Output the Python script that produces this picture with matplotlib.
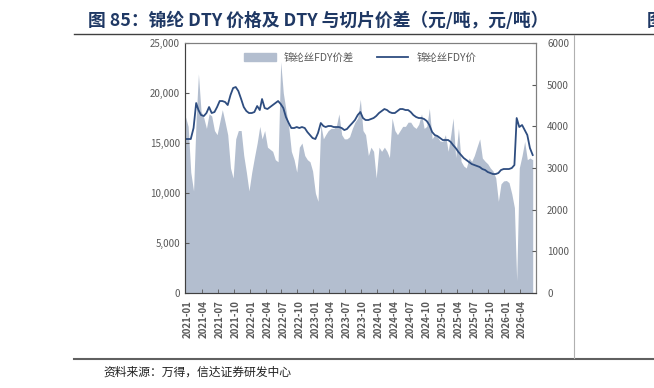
import numpy as np
import pandas as pd
import matplotlib
matplotlib.use("Agg")
import matplotlib.pyplot as plt
import matplotlib.dates as mdates
from matplotlib.lines import Line2D
from matplotlib.patches import Patch

plt.rcParams['font.family'] = ['Noto Sans CJK SC', 'DejaVu Sans']

# half-month samples, 2020-12-16 .. 2026-06-01
months = pd.date_range('2020-12-01', '2026-06-01', freq='MS')
dates = sorted(list(months) + [m + pd.Timedelta(days=15) for m in months])[1:-1]

# FDY spread (right axis, yuan/t)
spread = [4240, 4000, 2900, 2450, 4200, 5260, 4360, 4200, 3950, 4300,
          4250, 3900, 3800, 4100, 4400, 4100, 3800, 3000, 2760, 3700,
          3900, 3900, 3300, 2900, 2450, 2900, 3250, 3600, 4000, 3700,
          3900, 3500, 3450, 3400, 3200, 3150, 5550, 4800, 4400, 4000,
          3400, 3200, 2900, 3500, 3600, 3300, 3200, 3150, 2930, 2400,
          2200, 4050, 3700, 3800, 3900, 3950, 3950, 4000, 4300, 3800,
          3700, 3700, 3750, 3950, 4100, 4200, 4650, 3900, 3800, 3300,
          3500, 3400, 2760, 3500, 3400, 3500, 3400, 3250, 4200, 3900,
          3800, 3900, 4000, 4000, 4100, 4100, 4000, 3950, 4050, 4300,
          3950, 4000, 4430, 3700, 3800, 3750, 3650, 3640, 3800, 3400,
          3800, 4200, 3250, 3950, 3160, 3050, 3000, 3240, 3160, 3300,
          3500, 3700, 3240, 3160, 3100, 3000, 2930, 2760, 2200, 2620,
          2690, 2700, 2650, 2380, 2050, 300, 3000, 3300, 3640, 3200,
          3240, 3200]

# FDY price (left axis, yuan/t)
price = [15400, 15400, 15400, 16500, 19000, 18300, 17800, 17700, 18000, 18600,
         18000, 18100, 18600, 19200, 19200, 19100, 18800, 19800, 20500, 20600,
         20200, 19400, 18600, 18200, 18000, 18000, 18100, 18700, 18300, 19400,
         18500, 18400, 18600, 18800, 19000, 19200, 18900, 18500, 17600, 17000,
         16500, 16500, 16600, 16500, 16600, 16500, 16100, 15800, 15500, 15400,
         16000, 17000, 16700, 16600, 16700, 16700, 16600, 16600, 16600, 16500,
         16300, 16400, 16700, 17000, 17300, 17800, 18100, 17500, 17300, 17300,
         17400, 17500, 17700, 18000, 18200, 18400, 18300, 18100, 18000, 18000,
         18200, 18400, 18400, 18300, 18300, 18100, 17800, 17600, 17500, 17500,
         17400, 17200, 16800, 16100, 15800, 15700, 15500, 15300, 15300, 15300,
         15100, 14800, 14500, 14100, 13800, 13500, 13300, 13100, 12900, 12800,
         12700, 12600, 12400, 12300, 12100, 12000, 11900, 11900, 12000, 12300,
         12400, 12400, 12400, 12500, 12800, 17500, 16600, 16800, 16300, 15800,
         14500, 13800]

qlabels = pd.date_range('2021-01-01', '2026-04-01', freq='QS')

area_c = '#B3BECF'
line_c = '#2E4D80'
grey = '#595959'

fig = plt.figure(figsize=(6.54, 3.88), dpi=100)
ax = fig.add_axes([0.2829, 0.2448, 0.5367, 0.6443])
ax2 = ax.twinx()

ax2.fill_between(dates, spread, 0, color=area_c, lw=0)
ax.plot(dates, price, color=line_c, lw=1.3)
ax.set_zorder(ax2.get_zorder() + 1)
ax.patch.set_visible(False)

ax.set_ylim(0, 25000)
ax.set_yticks(range(0, 25001, 5000))
ax.set_yticklabels([f'{v:,}' for v in range(0, 25001, 5000)])
ax2.set_ylim(0, 6000)
ax2.set_yticks(range(0, 6001, 1000))

x0 = mdates.date2num(pd.Timestamp('2020-12-14'))
x1 = mdates.date2num(pd.Timestamp('2026-06-09'))
ax.set_xlim(x0, x1)

ax.set_xticks(mdates.date2num(qlabels))
ax.set_xticklabels([d.strftime('%Y-%m') for d in qlabels], rotation=90,
                   fontweight='bold', fontsize=7, color=grey)
ax.tick_params(axis='x', which='major', length=0, pad=5)
ax.set_xticks(mdates.date2num(qlabels + pd.Timedelta(days=80)), minor=True)
ax.tick_params(axis='x', which='minor', length=3, direction='in', color=grey)
ax.tick_params(axis='y', length=3, direction='in', labelsize=7, labelcolor=grey, color=grey)
ax2.tick_params(axis='y', length=3, direction='in', labelsize=7, labelcolor=grey, color=grey, pad=8)
ax2.tick_params(axis='x', length=0)

for a in (ax, ax2):
    for s in a.spines.values():
        s.set_color('#7F7F7F')
        s.set_linewidth(0.8)
ax.spines['left'].set_color('#404040')
ax.spines['bottom'].set_color('#404040')

handles = [Patch(color=area_c), Line2D([], [], color=line_c, lw=1.3)]
ax.legend(handles, ['锦纶丝FDY价差', '锦纶丝FDY价'], loc='upper center',
          bbox_to_anchor=(0.5, 1.0), ncol=2, frameon=False, fontsize=7.5,
          labelcolor=grey, handlelength=3, columnspacing=2.2)

# page decorations
fig.text(88 / 654, 1 - 21 / 388, '图 85：锦纶 DTY 价格及 DTY 与切片价差（元/吨，元/吨）',
         fontsize=12.8, fontweight='bold', color='#1F3864', va='center', ha='left')
fig.text(647 / 654, 1 - 21 / 388, '图', fontsize=12.8, fontweight='bold',
         color='#1F3864', va='center', ha='left')
fig.add_artist(Line2D([74 / 654, 1], [1 - 34 / 388] * 2, color='#404040', lw=1.0))
fig.add_artist(Line2D([74 / 654, 1], [1 - 359 / 388] * 2, color='#606060', lw=1.5))
fig.add_artist(Line2D([574 / 654] * 2, [1 - 35 / 388, 1 - 358 / 388], color='#B0B0B0', lw=0.8))
fig.text(103 / 654, 1 - 372 / 388, '资料来源：万得，信达证券研发中心',
         fontsize=8.5, color='#202020', va='center', ha='left')

fig.savefig('out.png', dpi=100)
